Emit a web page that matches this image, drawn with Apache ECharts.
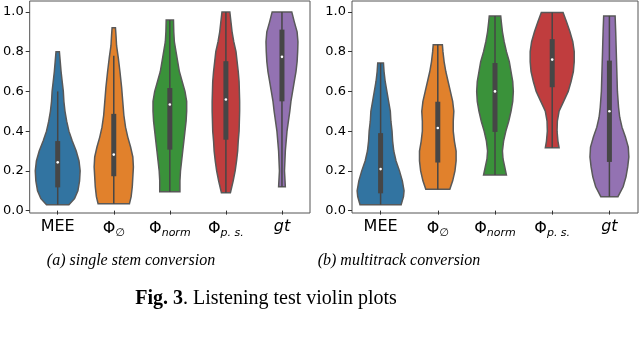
<!DOCTYPE html>
<html>
<head>
<meta charset="utf-8">
<script src="https://cdn.jsdelivr.net/npm/echarts@6/dist/echarts.min.js"></script>
<style>
  html, body { margin: 0; padding: 0; background: #fff; }
  #main { width: 640px; height: 337px; }
</style>
</head>
<body>
<div id="main"></div>
<script>
// x categories (rendered with rich text below)
var categories = ['MEE', 'phi0', 'norm', 'ps', 'gt'];
var colors = ['#3274a1', '#e1812c', '#3a923a', '#c03d3e', '#9372b2'];
var yTicks = [0, 0.2, 0.4, 0.6, 0.8, 1.0];

// (a) single stem conversion -- violin outlines: y levels and half widths (category units)
var levelsA = [
  [0.03, 0.06, 0.1, 0.15, 0.2, 0.25, 0.3, 0.35, 0.4, 0.45, 0.5, 0.55, 0.6, 0.65, 0.7, 0.75, 0.8],
  [0.035, 0.07, 0.12, 0.17, 0.22, 0.27, 0.32, 0.37, 0.42, 0.48, 0.55, 0.62, 0.7, 0.77, 0.83, 0.88, 0.92],
  [0.095, 0.15, 0.2, 0.25, 0.3, 0.35, 0.4, 0.45, 0.5, 0.55, 0.6, 0.65, 0.7, 0.75, 0.8, 0.85, 0.9, 0.96],
  [0.09, 0.15, 0.2, 0.25, 0.3, 0.35, 0.4, 0.45, 0.5, 0.55, 0.6, 0.65, 0.7, 0.75, 0.8, 0.85, 0.9, 0.95, 1.0],
  [0.12, 0.2, 0.3, 0.4, 0.5, 0.55, 0.6, 0.65, 0.7, 0.75, 0.8, 0.85, 0.9, 0.95, 1.0]
];
var widthsA = [
  [0.2, 0.3, 0.36, 0.39, 0.4, 0.38, 0.33, 0.26, 0.2, 0.16, 0.13, 0.11, 0.1, 0.08, 0.06, 0.045, 0.03],
  [0.28, 0.31, 0.33, 0.34, 0.35, 0.34, 0.3, 0.25, 0.21, 0.18, 0.16, 0.14, 0.11, 0.08, 0.05, 0.04, 0.03],
  [0.18, 0.18, 0.19, 0.21, 0.23, 0.25, 0.27, 0.29, 0.3, 0.3, 0.27, 0.22, 0.17, 0.14, 0.11, 0.08, 0.07, 0.065],
  [0.08, 0.13, 0.165, 0.19, 0.21, 0.22, 0.235, 0.24, 0.245, 0.245, 0.24, 0.235, 0.22, 0.2, 0.18, 0.14, 0.11, 0.09, 0.07],
  [0.06, 0.045, 0.06, 0.09, 0.14, 0.16, 0.19, 0.22, 0.25, 0.27, 0.28, 0.285, 0.27, 0.22, 0.175]
];
var lowA = [0.03, 0.035, 0.095, 0.09, 0.12];
var q1A = [0.117, 0.173, 0.307, 0.357, 0.55];
var medA = [0.243, 0.282, 0.534, 0.559, 0.774];
var q3A = [0.35, 0.487, 0.617, 0.752, 0.911];
var highA = [0.6, 0.78, 0.96, 1.0, 1.0];

// (b) multitrack conversion
var levelsB = [
  [0.03, 0.07, 0.1, 0.15, 0.2, 0.25, 0.3, 0.35, 0.4, 0.45, 0.5, 0.55, 0.6, 0.65, 0.7, 0.743],
  [0.107, 0.15, 0.2, 0.25, 0.3, 0.35, 0.4, 0.45, 0.5, 0.55, 0.6, 0.65, 0.7, 0.75, 0.8, 0.835],
  [0.179, 0.22, 0.26, 0.3, 0.35, 0.4, 0.45, 0.5, 0.55, 0.6, 0.65, 0.7, 0.75, 0.8, 0.85, 0.9, 0.95, 0.98],
  [0.317, 0.35, 0.4, 0.45, 0.5, 0.55, 0.6, 0.65, 0.7, 0.75, 0.8, 0.85, 0.9, 0.95, 0.997],
  [0.07, 0.12, 0.17, 0.22, 0.27, 0.32, 0.37, 0.42, 0.47, 0.52, 0.6, 0.7, 0.8, 0.9, 0.98]
];
var widthsB = [
  [0.36, 0.4, 0.41, 0.38, 0.33, 0.27, 0.23, 0.21, 0.2, 0.18, 0.17, 0.14, 0.11, 0.08, 0.06, 0.05],
  [0.21, 0.26, 0.3, 0.32, 0.32, 0.29, 0.27, 0.27, 0.28, 0.26, 0.22, 0.18, 0.14, 0.11, 0.09, 0.08],
  [0.2, 0.17, 0.14, 0.13, 0.15, 0.19, 0.24, 0.28, 0.31, 0.32, 0.31, 0.28, 0.25, 0.2, 0.16, 0.13, 0.11, 0.1],
  [0.12, 0.1, 0.085, 0.09, 0.12, 0.2, 0.28, 0.33, 0.37, 0.385, 0.385, 0.36, 0.31, 0.25, 0.19],
  [0.15, 0.24, 0.29, 0.32, 0.34, 0.33, 0.28, 0.22, 0.18, 0.16, 0.14, 0.13, 0.12, 0.11, 0.1]
];
var lowB = [0.03, 0.107, 0.179, 0.317, 0.07];
var q1B = [0.087, 0.242, 0.396, 0.621, 0.245];
var medB = [0.209, 0.416, 0.6, 0.76, 0.5];
var q3B = [0.39, 0.548, 0.743, 0.863, 0.755];
var highB = [0.743, 0.835, 0.98, 0.997, 0.98];

var chart = echarts.init(document.getElementById('main'), null, { renderer: 'canvas' });

var labelRich = {
    t: { fontSize: 16, fontFamily: 'DejaVu Sans', color: '#000' },
    ti: { fontSize: 16, fontFamily: 'DejaVu Sans', fontStyle: 'italic', color: '#000' },
    s: { fontSize: 11, fontFamily: 'DejaVu Sans', fontStyle: 'italic', color: '#000', padding: [9, 0, 0, 0] }
};

function catLabel(v) {
    if (v === 'MEE') return '{t|MEE}';
    if (v === 'phi0') return '{t|Φ}{s|∅}';
    if (v === 'norm') return '{t|Φ}{s|norm}';
    if (v === 'ps') return '{t|Φ}{s|p. s.}';
    return '{ti|gt}';
}

function makeViolin(levels, widths, low, q1, med, q3, high) {
    return function (params, api) {
        var i = params.dataIndex;
        var c = api.coord([i, 0])[0];
        var band = api.size([1, 0])[0];
        var lv = levels[i], wd = widths[i];
        var pts = [];
        for (var k = 0; k < lv.length; k++) {
            pts.push([c + wd[k] * band, api.coord([i, lv[k]])[1]]);
        }
        for (var k = lv.length - 1; k >= 0; k--) {
            pts.push([c - wd[k] * band, api.coord([i, lv[k]])[1]]);
        }
        var yLow = api.coord([i, low[i]])[1];
        var yHigh = api.coord([i, high[i]])[1];
        var yQ1 = api.coord([i, q1[i]])[1];
        var yQ3 = api.coord([i, q3[i]])[1];
        var yMed = api.coord([i, med[i]])[1];
        return {
            type: 'group',
            children: [
                {
                    type: 'polygon',
                    shape: { points: pts },
                    style: { fill: colors[i], stroke: '#595959', lineWidth: 1.5 }
                },
                {
                    type: 'line',
                    shape: { x1: c, y1: yLow, x2: c, y2: yHigh },
                    style: { stroke: '#464646', lineWidth: 1.5 }
                },
                {
                    type: 'rect',
                    shape: { x: c - 2.5, y: yQ3, width: 5, height: yQ1 - yQ3 },
                    style: { fill: '#464646' }
                },
                {
                    type: 'circle',
                    shape: { cx: c, cy: yMed, r: 1.3 },
                    style: { fill: '#fff' }
                }
            ]
        };
    };
}

function xAxisOf(idx) {
    return {
        type: 'category',
        gridIndex: idx,
        data: categories,
        axisLine: { show: false },
        axisTick: { show: true, alignWithLabel: true, length: 4, lineStyle: { color: '#333' } },
        axisLabel: { interval: 0, margin: 6, formatter: catLabel, rich: labelRich }
    };
}

function yAxisOf(idx) {
    return {
        type: 'value',
        gridIndex: idx,
        min: -0.012,
        max: 1.055,
        splitLine: { show: false },
        axisLine: { show: false },
        axisTick: { show: true, length: 4, customValues: yTicks, lineStyle: { color: '#333' } },
        axisLabel: {
            customValues: yTicks,
            margin: 6,
            fontSize: 13,
            fontFamily: 'DejaVu Sans',
            color: '#000',
            formatter: function (v) { return v.toFixed(1); }
        }
    };
}

var option = {
    animation: false,
    title: [
        {
            text: '(a) single stem conversion',
            left: 126, top: 248, textAlign: 'center',
            textStyle: { fontFamily: 'Liberation Serif', fontStyle: 'italic', fontWeight: 'normal', fontSize: 16, color: '#000' }
        },
        {
            text: '(b) multitrack conversion',
            left: 394, top: 248, textAlign: 'center',
            textStyle: { fontFamily: 'Liberation Serif', fontStyle: 'italic', fontWeight: 'normal', fontSize: 16, color: '#000' }
        },
        {
            text: '{b|Fig. 3}{r|. Listening test violin plots}',
            left: 261, top: 284, textAlign: 'center',
            textStyle: {
                rich: {
                    b: { fontFamily: 'Liberation Serif', fontWeight: 'bold', fontSize: 20, color: '#000' },
                    r: { fontFamily: 'Liberation Serif', fontWeight: 'normal', fontSize: 20, color: '#000' }
                }
            }
        }
    ],
    grid: [
        { left: 25, top: 1, width: 285, height: 212, show: true, borderColor: '#555', borderWidth: 1 },
        { left: 352, top: 1, width: 286, height: 212, show: true, borderColor: '#555', borderWidth: 1 }
    ],
    xAxis: [xAxisOf(0), xAxisOf(1)],
    yAxis: [yAxisOf(0), yAxisOf(1)],
    series: [
        {
            type: 'custom',
            xAxisIndex: 0, yAxisIndex: 0,
            renderItem: makeViolin(levelsA, widthsA, lowA, q1A, medA, q3A, highA),
            data: categories.map(function (c, i) { return [i, lowA[i], q1A[i], medA[i], q3A[i], highA[i]]; })
        },
        {
            type: 'custom',
            xAxisIndex: 1, yAxisIndex: 1,
            renderItem: makeViolin(levelsB, widthsB, lowB, q1B, medB, q3B, highB),
            data: categories.map(function (c, i) { return [i, lowB[i], q1B[i], medB[i], q3B[i], highB[i]]; })
        }
    ]
};

chart.setOption(option);
</script>
</body>
</html>
